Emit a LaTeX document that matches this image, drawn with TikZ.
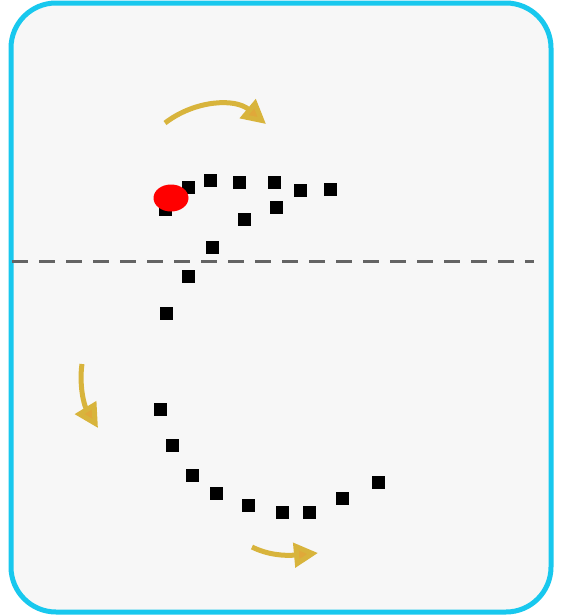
\documentclass[tikz,border=0pt]{standalone}
\usetikzlibrary{arrows.meta,shapes.geometric}
\definecolor{frame}{RGB}{24,200,238}
\definecolor{bg}{RGB}{247,247,247}
\definecolor{dashgray}{RGB}{100,100,100}
\definecolor{goldline}{RGB}{216,180,60}
\definecolor{goldhead}{RGB}{224,168,58}
\begin{document}
\begin{tikzpicture}[x=1pt,y=-1pt,
  sq/.style={fill=black,minimum size=13pt,inner sep=0pt,draw=none,rectangle},
  turn/.style={draw=goldline,line width=5pt,-{Triangle[length=24pt,width=24pt,fill=goldhead]}}]
\useasboundingbox (0,0) rectangle (560,616);
\fill[white] (0,0) rectangle (560,616);
\draw[frame,fill=bg,line width=5pt,rounded corners=45pt] (11,3) rectangle (551,612);
\draw[dashgray,line width=3pt,dash pattern=on 16pt off 11pt] (12,261) -- (534,261);
% squares
\node[sq] (s1) at (165,209) {};
\node[sq] (s2) at (188,187) {};
\node[sq] (s3) at (210,180) {};
\node[sq] (s4) at (239,182) {};
\node[sq] (s5) at (274,182) {};
\node[sq] (s6) at (300,190) {};
\node[sq] (s7) at (330,189) {};
\node[sq] (s8) at (244,219) {};
\node[sq] (s9) at (276,207) {};
\node[sq] (s10) at (212,247) {};
\node[sq] (s11) at (188,276) {};
\node[sq] (s12) at (166,313) {};
\node[sq] (s13) at (160,409) {};
\node[sq] (s14) at (172,445) {};
\node[sq] (s15) at (192,475) {};
\node[sq] (s16) at (216,493) {};
\node[sq] (s17) at (248,505) {};
\node[sq] (s18) at (282,512) {};
\node[sq] (s19) at (309,512) {};
\node[sq] (s20) at (342,498) {};
\node[sq] (s21) at (378,482) {};
% red marker
\node[ellipse,fill=red,minimum width=35pt,minimum height=27pt,inner sep=0pt] (red) at (171,198) {};
% arrows
\coordinate (a1s) at (165,123);
\coordinate (a1e) at (266,124);
\draw[turn] (a1s) .. controls (195,100) and (235,98) .. (a1e);
\coordinate (a2s) at (82,364);
\coordinate (a2e) at (98,428);
\draw[turn] (a2s) .. controls (79,385) and (84,405) .. (a2e);
\coordinate (a3s) at (252,547);
\coordinate (a3e) at (318,553);
\draw[turn] (a3s) .. controls (268,555) and (285,556) .. (a3e);
\end{tikzpicture}
\end{document}
